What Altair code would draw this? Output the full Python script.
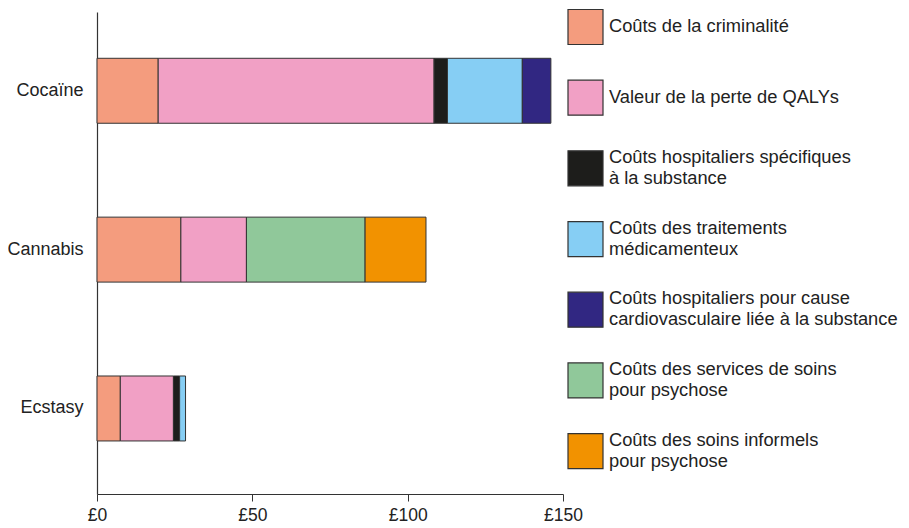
import altair as alt
import pandas as pd

drugs = ["Cocaïne", "Cannabis", "Ecstasy"]
components = [
    "Coûts de la criminalité",
    "Valeur de la perte de QALYs",
    "Coûts hospitaliers spécifiques|à la substance",
    "Coûts des traitements|médicamenteux",
    "Coûts hospitaliers pour cause|cardiovasculaire liée à la substance",
    "Coûts des services de soins|pour psychose",
    "Coûts des soins informels|pour psychose",
]
colors = ["#F49C7E", "#F1A0C5", "#1D1D1B", "#86CEF4", "#312782", "#90C89A", "#F29200"]

cocaine = [19.7, 88.8, 4.3, 24.1, 9.2, 0, 0]
cannabis = [27.0, 21.1, 0, 0, 0, 38.2, 19.6]
ecstasy = [7.5, 17.1, 2.0, 1.9, 0, 0, 0]
x_ticks = [0, 50, 100, 150]

rows = []
for drug, vals in zip(drugs, [cocaine, cannabis, ecstasy]):
    for i, (comp, v) in enumerate(zip(components, vals)):
        if v > 0:
            rows.append({"drug": drug, "component": comp, "value": v, "order": i})
df = pd.DataFrame(rows)

leg_rows = []
for comp in components:
    lines = comp.split("|")
    n = len(lines)
    for j, line in enumerate(lines):
        pos = "single" if n == 1 else ("first" if j == 0 else "second")
        leg_rows.append({"component": comp, "line": line, "pos": pos})
leg_df = pd.DataFrame(leg_rows)
sq_df = pd.DataFrame({"component": components})

FONT = "Liberation Sans"
TXT = "#222222"
LINE_GAP = 10.5
color_scale = alt.Scale(domain=components, range=colors)
leg_y_scale = alt.Scale(type="point", domain=components, padding=0.41, align=0.259)

bars = alt.Chart(df).mark_bar(stroke="#333333", strokeWidth=1).encode(
    y=alt.Y(
        "drug:N",
        sort=drugs,
        title=None,
        scale=alt.Scale(paddingInner=0.591, paddingOuter=0.3126, align=0.466),
        axis=alt.Axis(
            ticks=False,
            labelPadding=14,
            labelFontSize=18,
            labelFont=FONT,
            labelColor=TXT,
            domainColor="#333333",
            domainWidth=1.2,
        ),
    ),
    x=alt.X(
        "value:Q",
        stack="zero",
        title=None,
        scale=alt.Scale(domain=[0, 150], nice=False),
        axis=alt.Axis(
            values=x_ticks,
            labelExpr="'£' + datum.value",
            grid=False,
            tickSize=7,
            tickColor="#333333",
            domainColor="#333333",
            domainWidth=1.2,
            labelFontSize=17.5,
            labelFont=FONT,
            labelColor=TXT,
            labelPadding=5,
            labelFlush=False,
        ),
    ),
    color=alt.Color("component:N", scale=color_scale, legend=None),
    order=alt.Order("order:Q"),
)

squares = alt.Chart(sq_df).mark_square(
    size=1225, opacity=1, filled=True, stroke="#333333", strokeWidth=1.2
).encode(
    y=alt.Y("component:N", sort=components, scale=leg_y_scale, axis=None),
    x=alt.value(488.5),
    color=alt.Color("component:N", scale=color_scale, legend=None),
)


def text_layer(pos, dy):
    return alt.Chart(leg_df).transform_filter(
        alt.datum.pos == pos
    ).mark_text(
        align="left", baseline="middle", fontSize=18.3, font=FONT, color=TXT, dy=dy
    ).encode(
        y=alt.Y("component:N", sort=components, scale=leg_y_scale, axis=None),
        x=alt.value(512),
        text="line:N",
    )


chart = alt.layer(
    bars,
    squares,
    text_layer("single", 0),
    text_layer("first", -LINE_GAP),
    text_layer("second", LINE_GAP),
).resolve_scale(
    y="independent"
).properties(
    width=466,
    height=482,
    padding={"left": 89, "top": 4, "right": 338, "bottom": 32},
    autosize=alt.AutoSizeParams(type="none"),
).configure_view(stroke=None)

chart.save("out.html", embed_options={"renderer": "svg", "actions": False})
